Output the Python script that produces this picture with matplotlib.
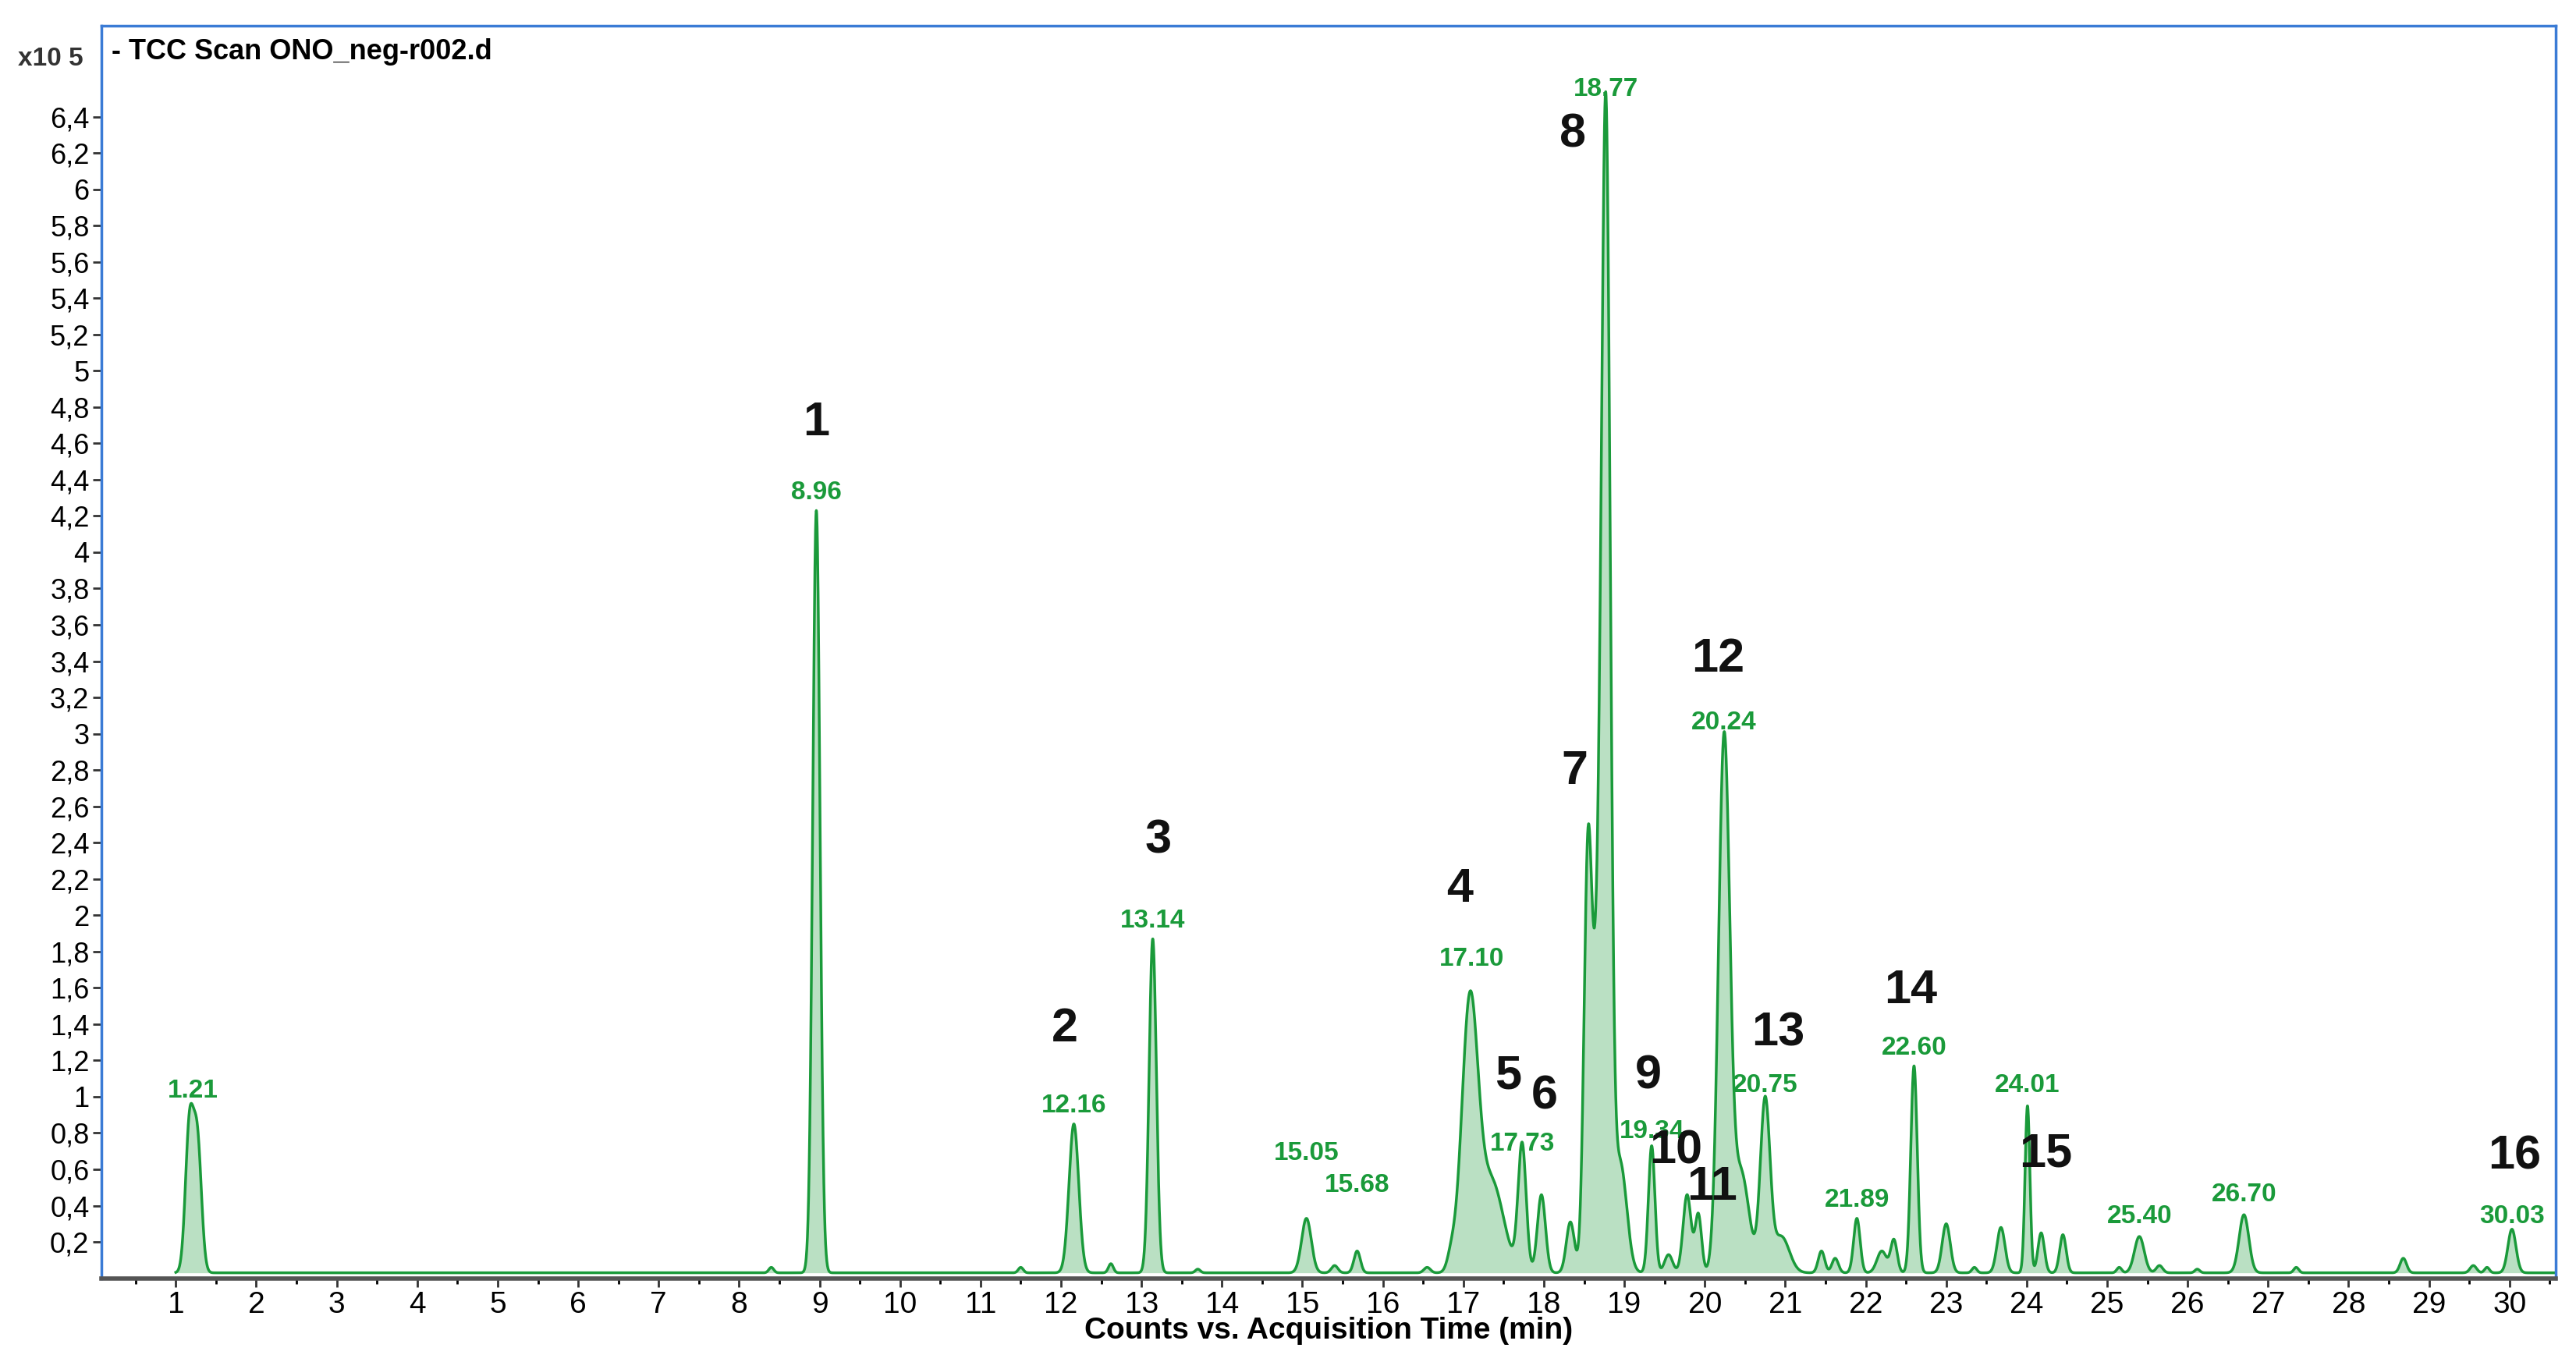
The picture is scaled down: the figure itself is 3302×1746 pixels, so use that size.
import numpy as np
import matplotlib
matplotlib.use("Agg")
import matplotlib.pyplot as plt
from matplotlib.ticker import FixedLocator, MultipleLocator

# peak table: retention time (min), height (x10^5), width (sigma, min)
peak_rt = [1.17, 1.27, 8.40, 8.96, 11.50, 12.16, 12.62, 13.14, 13.70, 15.05, 15.40, 15.68, 16.55, 16.85,
           17.08, 17.35, 17.73, 17.97, 18.33, 18.55, 18.66, 18.77, 18.95, 19.34, 19.55, 19.78, 19.92, 20.24, 20.45,
           20.75, 20.95, 21.45, 21.62, 21.89, 22.20, 22.35, 22.60, 23.00, 23.35, 23.68, 24.01, 24.18, 24.45,
           25.15, 25.40, 25.65, 26.12, 26.70, 27.35, 28.68, 29.55, 29.72, 30.03]
peak_h = [0.80, 0.70, 0.03, 4.20, 0.03, 0.82, 0.05, 1.84, 0.02, 0.30, 0.04, 0.12, 0.03, 0.08,
          1.45, 0.50, 0.70, 0.43, 0.28, 2.35, 1.20, 6.35, 0.60, 0.70, 0.10, 0.43, 0.32, 2.92, 0.55,
          0.94, 0.20, 0.12, 0.08, 0.30, 0.12, 0.18, 1.14, 0.27, 0.03, 0.25, 0.92, 0.22, 0.21,
          0.03, 0.20, 0.04, 0.02, 0.32, 0.03, 0.08, 0.04, 0.03, 0.24]
peak_w = [0.05, 0.05, 0.03, 0.045, 0.03, 0.06, 0.03, 0.045, 0.03, 0.06, 0.04, 0.04, 0.04, 0.05,
          0.10, 0.15, 0.05, 0.05, 0.05, 0.05, 0.05, 0.055, 0.08, 0.04, 0.05, 0.05, 0.04, 0.07, 0.10,
          0.06, 0.10, 0.04, 0.04, 0.04, 0.06, 0.04, 0.04, 0.05, 0.03, 0.05, 0.03, 0.04, 0.04,
          0.03, 0.06, 0.04, 0.03, 0.06, 0.03, 0.04, 0.04, 0.03, 0.05]
baseline = 0.03

# annotations
rt_labels = ["1.21", "8.96", "12.16", "13.14", "15.05", "15.68", "17.10", "17.73", "18.77", "19.34",
             "20.24", "20.75", "21.89", "22.60", "24.01", "25.40", "26.70", "30.03"]
rt_label_y = [1.03, 4.33, 0.95, 1.97, 0.69, 0.51, 1.76, 0.74, 6.55, 0.81, 3.06, 1.06, 0.43, 1.27,
              1.06, 0.34, 0.46, 0.34]
cmp_labels = [str(i) for i in range(1, 17)]
cmp_x = [8.96, 12.05, 13.21, 16.95, 17.56, 18.01, 18.38, 18.36, 19.30, 19.64, 20.09, 20.16, 20.91, 22.56, 24.24, 30.06]
cmp_y = [4.71, 1.37, 2.41, 2.14, 1.11, 1.00, 2.79, 6.30, 1.11, 0.70, 0.50, 3.41, 1.35, 1.58, 0.68, 0.67]

t = np.linspace(1.0, 30.55, 12000)
sig = np.full_like(t, baseline)
for c, h, w in zip(peak_rt, peak_h, peak_w):
    sig += h * np.exp(-0.5 * ((t - c) / w) ** 2)

narrow = ['Liberation Sans Narrow', 'Liberation Sans', 'DejaVu Sans']
fig = plt.figure(figsize=(33.02, 17.46), dpi=100)
ax = fig.add_axes([0.0395, 0.0615, 0.9525, 0.9195])
green = '#1a9a3a'
ax.fill_between(t, baseline, sig, color='#a9d9b4', alpha=0.8, lw=0)
ax.plot(t, sig, color=green, lw=2.5)

ax.set_xlim(0.08, 30.57)
ax.set_ylim(0, 6.9)
ax.xaxis.set_major_locator(FixedLocator(range(1, 31)))
ax.xaxis.set_minor_locator(MultipleLocator(0.5))
yt = [round(0.2 * i, 1) for i in range(1, 33)]
ax.yaxis.set_major_locator(FixedLocator(yt))
ax.set_yticklabels([(str(int(v)) if abs(v - round(v)) < 1e-9 else f"{v:.1f}".replace('.', ',')) for v in yt],
                   family=narrow, fontsize=26)
ax.set_xticklabels([str(i) for i in range(1, 31)], family=narrow, fontsize=28)
ax.tick_params(axis='both', length=8, width=2, color='#333333')
ax.tick_params(axis='x', which='minor', length=5, width=2)
for s in ax.spines.values():
    s.set_color('#3a7bd5')
    s.set_linewidth(2.5)
ax.spines['bottom'].set_color('#555555')
ax.spines['bottom'].set_linewidth(4)
ax.set_xlabel("Counts vs. Acquisition Time (min)", family=narrow, fontsize=28, fontweight='bold', labelpad=-2)

ax.text(0.004, 0.99, "- TCC Scan ONO_neg-r002.d", transform=ax.transAxes, ha='left', va='top',
        family=narrow, fontsize=26, fontweight='bold')
fig.text(0.007, 0.952, "x10 5", family=narrow, fontsize=24, fontweight='bold', color='#333333')

for lab, y in zip(rt_labels, rt_label_y):
    ax.text(float(lab), y, lab, color=green, ha='center', va='center', fontsize=24, fontweight='bold',
            family=narrow)
for lab, x, y in zip(cmp_labels, cmp_x, cmp_y):
    ax.text(x, y, lab, color='#111111', ha='center', va='center', fontsize=44, fontweight='bold',
            family=['Liberation Sans', 'DejaVu Sans'])

fig.savefig("out.png", dpi=100)
